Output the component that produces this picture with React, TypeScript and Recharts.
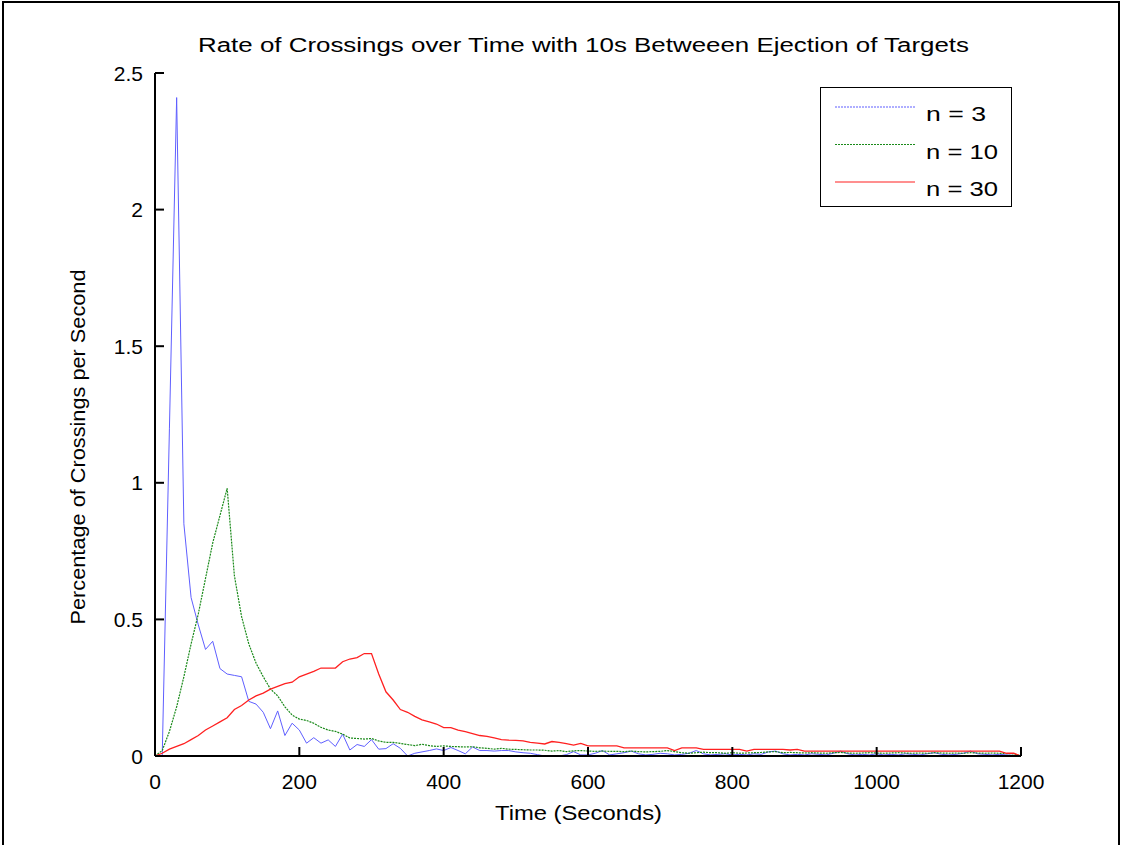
import React from 'react';
import { LineChart, Line, XAxis, YAxis, Legend } from 'recharts';

const times = [
  0, 10, 20, 30, 40, 50, 60, 70, 80, 90,
  100, 110, 120, 130, 140, 150, 160, 170, 180, 190,
  200, 210, 220, 230, 240, 250, 260, 270, 280, 290,
  300, 310, 320, 330, 340, 350, 360, 370, 380, 390,
  400, 410, 420, 430, 440, 450, 460, 470, 480, 490,
  500, 510, 520, 530, 540, 550, 560, 570, 580, 590,
  600, 610, 620, 630, 640, 650, 660, 670, 680, 690,
  700, 710, 720, 730, 740, 750, 760, 770, 780, 790,
  800, 810, 820, 830, 840, 850, 860, 870, 880, 890,
  900, 910, 920, 930, 940, 950, 960, 970, 980, 990,
  1000, 1010, 1020, 1030, 1040, 1050, 1060, 1070, 1080, 1090,
  1100, 1110, 1120, 1130, 1140, 1150, 1160, 1170, 1180, 1190,
  1200,
];

const n3 = [
  0, 0, 1.2, 2.41, 0.85, 0.58, 0.48, 0.39, 0.42, 0.32,
  0.30, 0.295, 0.29, 0.20, 0.19, 0.16, 0.10, 0.165, 0.075, 0.12,
  0.095, 0.047, 0.067, 0.047, 0.059, 0.035, 0.08, 0.022, 0.042, 0.035,
  0.06, 0.025, 0.027, 0.045, 0.028, 0, 0.01, 0.015, 0.02, 0.026,
  0.02, 0.031, 0.02, 0.008, 0.033, 0.02, 0.02, 0.018, 0.02, 0.02,
  0.015, 0.012, 0.01, 0.005, 0, 0, 0, 0.005, 0.016, 0.004,
  0.004, 0.01, 0.02, 0.004, 0.008, 0.012, 0.018, 0.008, 0.004, 0.006,
  0.01, 0.008, 0.004, 0.006, 0.01, 0.02, 0.008, 0.004, 0.006, 0.008,
  0.004, 0.006, 0.004, 0.008, 0.006, 0.015, 0.018, 0.008, 0.004, 0.006,
  0.004, 0.008, 0.006, 0.004, 0.01, 0.018, 0.008, 0.004, 0.006, 0.004,
  0.008, 0.004, 0.006, 0.004, 0.008, 0.006, 0.004, 0.008, 0.012, 0.006,
  0.004, 0.006, 0.01, 0.018, 0.008, 0.006, 0.004, 0.006, 0.004, 0.002,
  0,
];

const n10 = [
  0, 0.02, 0.09, 0.18, 0.29, 0.41, 0.52, 0.65, 0.78, 0.88,
  0.98, 0.66, 0.51, 0.41, 0.34, 0.29, 0.245, 0.22, 0.18, 0.15,
  0.135, 0.13, 0.12, 0.105, 0.095, 0.09, 0.08, 0.066, 0.064, 0.062,
  0.064, 0.055, 0.05, 0.05, 0.046, 0.042, 0.038, 0.043, 0.038, 0.035,
  0.037, 0.035, 0.034, 0.033, 0.034, 0.03, 0.028, 0.025, 0.028, 0.025,
  0.024, 0.023, 0.022, 0.022, 0.021, 0.018, 0.02, 0.016, 0.019, 0.02,
  0.018, 0.017, 0.018, 0.017, 0.017, 0.016, 0.018, 0.016, 0.015, 0.016,
  0.017, 0.02, 0.016, 0.012, 0.01, 0.012, 0.014, 0.012, 0.012, 0.01,
  0.012, 0.01, 0.011, 0.012, 0.013, 0.015, 0.016, 0.012, 0.013, 0.012,
  0.011, 0.012, 0.011, 0.01, 0.012, 0.013, 0.011, 0.01, 0.011, 0.012,
  0.011, 0.01, 0.011, 0.012, 0.011, 0.01, 0.011, 0.01, 0.012, 0.011,
  0.01, 0.011, 0.01, 0.012, 0.011, 0.01, 0.011, 0.01, 0.009, 0.008,
  0,
];

const n30 = [
  0, 0.01, 0.025, 0.035, 0.045, 0.06, 0.075, 0.095, 0.11, 0.125,
  0.14, 0.17, 0.185, 0.205, 0.22, 0.23, 0.245, 0.255, 0.265, 0.27,
  0.29, 0.30, 0.31, 0.322, 0.322, 0.322, 0.345, 0.355, 0.36, 0.375,
  0.375, 0.30, 0.235, 0.205, 0.17, 0.16, 0.145, 0.132, 0.125, 0.117,
  0.104, 0.104, 0.095, 0.089, 0.082, 0.075, 0.072, 0.066, 0.06, 0.058,
  0.057, 0.055, 0.05, 0.047, 0.044, 0.053, 0.05, 0.045, 0.04, 0.046,
  0.037, 0.037, 0.037, 0.037, 0.037, 0.03, 0.03, 0.03, 0.03, 0.03,
  0.03, 0.03, 0.02, 0.03, 0.03, 0.03, 0.024, 0.024, 0.024, 0.024,
  0.024, 0.024, 0.018, 0.024, 0.024, 0.024, 0.024, 0.024, 0.022, 0.024,
  0.018, 0.018, 0.018, 0.018, 0.018, 0.018, 0.018, 0.018, 0.018, 0.018,
  0.018, 0.018, 0.018, 0.018, 0.018, 0.018, 0.018, 0.018, 0.018, 0.018,
  0.018, 0.018, 0.018, 0.018, 0.018, 0.018, 0.018, 0.018, 0.01, 0.01,
  0,
];

const xTicks = [0, 200, 400, 600, 800, 1000, 1200];
const yTicks = [0, 0.5, 1, 1.5, 2, 2.5];

const seriesKeys = ['n3', 'n10', 'n30'];
const seriesNames = ['n = 3', 'n = 10', 'n = 30'];
const seriesColors = ['#5f5fff', '#1a8a1a', '#ff2020'];
const seriesDash = ['2 1', '2 1', undefined];
const titleText = 'Rate of Crossings over Time with 10s Betweeen Ejection of Targets';
const xLabel = 'Time (Seconds)';
const yLabel = 'Percentage of Crossings per Second';

const data = times.map((t, i) => ({ t, n3: n3[i], n10: n10[i], n30: n30[i] }));

const FONT = '"Liberation Sans", Arial, Helvetica, sans-serif';
const TICK_LEN = 9;

const BottomTick = (props: any) => {
  const { x, y, payload } = props;
  return (
    <g>
      <line x1={x} y1={y} x2={x} y2={y - TICK_LEN} stroke="#000" strokeWidth={2} />
      <text x={x} y={y + 25} textAnchor="middle" dominantBaseline="central" fontSize={21} fontFamily={FONT} fill="#000">
        {payload.value}
      </text>
    </g>
  );
};

const TopTick = (props: any) => {
  const { x, y } = props;
  return <line x1={x} y1={y} x2={x} y2={y + TICK_LEN} stroke="#000" strokeWidth={2} />;
};

const LeftTick = (props: any) => {
  const { x, y, payload } = props;
  return (
    <g>
      <line x1={x} y1={y} x2={x + TICK_LEN} y2={y} stroke="#000" strokeWidth={2} />
      <text x={x - 12} y={y} textAnchor="end" dominantBaseline="central" fontSize={21} fontFamily={FONT} fill="#000">
        {payload.value}
      </text>
    </g>
  );
};

const RightTick = (props: any) => {
  const { x, y } = props;
  return <line x1={x} y1={y} x2={x - TICK_LEN} y2={y} stroke="#000" strokeWidth={2} />;
};

const LegendBox = () => {
  const widths = [60, 72, 72];
  return (
    <div style={{ width: 192, height: 120, border: '1.5px solid #000', background: '#fff', boxSizing: 'border-box' }}>
      <svg width={190} height={118} style={{ display: 'block' }}>
        {seriesNames.map((name, i) => {
          const ly = 19 + i * 37.5;
          return (
            <g key={name}>
              <line
                x1={14}
                y1={ly}
                x2={94}
                y2={ly}
                stroke={seriesColors[i]}
                strokeWidth={1.2}
                strokeDasharray={seriesDash[i]}
              />
              <text
                x={105}
                y={ly + 14}
                fontSize={21}
                fontFamily={FONT}
                fill="#000"
                textLength={widths[i]}
                lengthAdjust="spacingAndGlyphs"
              >
                {name}
              </text>
            </g>
          );
        })}
      </svg>
    </div>
  );
};

export default function App() {
  return (
    <div style={{ position: 'absolute', left: 0, top: 0, width: 1123, height: 845, overflow: 'hidden', background: '#fff' }}>
      <div
        style={{
          position: 'absolute',
          left: 2,
          top: 1,
          width: 1118,
          height: 900,
          border: '2px solid #000',
          boxSizing: 'border-box',
        }}
      />
      <div style={{ position: 'absolute', left: 0, top: 0 }}>
        <LineChart width={1123} height={845} data={data} margin={{ top: 73, right: 102, bottom: 59, left: 95 }}>
          <XAxis
            dataKey="t"
            type="number"
            domain={[0, 1200]}
            ticks={xTicks}
            height={30}
            tickSize={0}
            tickMargin={0}
            tickLine={false}
            axisLine={{ stroke: '#000', strokeWidth: 2 }}
            tick={BottomTick}
            interval={0}
          />
          <XAxis
            xAxisId="top"
            orientation="top"
            dataKey="t"
            type="number"
            domain={[0, 1200]}
            ticks={xTicks}
            height={0}
            tickSize={0}
            tickMargin={0}
            tickLine={false}
            axisLine={{ stroke: '#000', strokeWidth: 2 }}
            tick={TopTick}
            interval={0}
          />
          <YAxis
            type="number"
            domain={[0, 2.5]}
            ticks={yTicks}
            width={60}
            tickSize={0}
            tickMargin={0}
            tickLine={false}
            axisLine={{ stroke: '#000', strokeWidth: 2 }}
            tick={LeftTick}
            interval={0}
          />
          <YAxis
            yAxisId="right"
            orientation="right"
            type="number"
            domain={[0, 2.5]}
            ticks={yTicks}
            width={0}
            tickSize={0}
            tickMargin={0}
            tickLine={false}
            axisLine={{ stroke: '#000', strokeWidth: 2 }}
            tick={RightTick}
            interval={0}
          />
          <Legend
            layout="vertical"
            align="center"
            verticalAlign="middle"
            content={LegendBox}
            wrapperStyle={{ position: 'absolute', left: 820, top: 87, width: 192, height: 120 }}
          />
          {seriesKeys.map((k, i) => (
            <Line
              key={k}
              type="linear"
              dataKey={k}
              name={seriesNames[i]}
              stroke={seriesColors[i]}
              strokeWidth={i === 0 ? 1 : i === 1 ? 1.2 : 1.3}
              strokeDasharray={i === 1 ? '2 1' : undefined}
              dot={false}
              isAnimationActive={false}
            />
          ))}
        </LineChart>
      </div>
      <svg width={1123} height={845} style={{ position: 'absolute', left: 0, top: 0, pointerEvents: 'none' }}>
        <text x={583.5} y={52} textAnchor="middle" fontSize={20} fontFamily={FONT} fill="#000" textLength={771} lengthAdjust="spacingAndGlyphs">
          {titleText}
        </text>
        <text x={578.5} y={820} textAnchor="middle" fontSize={21} fontFamily={FONT} fill="#000" textLength={167} lengthAdjust="spacingAndGlyphs">
          {xLabel}
        </text>
        <text
          x={0}
          y={0}
          transform="translate(85,447) rotate(-90)"
          textAnchor="middle"
          fontSize={21}
          fontFamily={FONT}
          fill="#000"
          textLength={355}
          lengthAdjust="spacingAndGlyphs"
        >
          {yLabel}
        </text>
      </svg>
    </div>
  );
}
